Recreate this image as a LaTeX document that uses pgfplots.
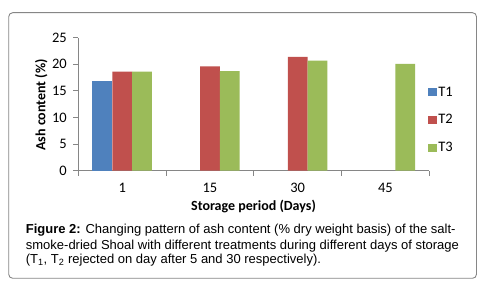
\documentclass[border=0pt]{standalone}
\usepackage{fontspec}
\setmainfont{Carlito}
\newfontfamily\arial{Liberation Sans}
\usepackage{pgfplots}
\pgfplotsset{compat=1.18}
\definecolor{cT1}{HTML}{4F81BD}
\definecolor{cT2}{HTML}{C0504D}
\definecolor{cT3}{HTML}{9BBB59}
\definecolor{axgray}{HTML}{868686}
\begin{document}
\begin{tikzpicture}[x=1pt,y=1pt]
\useasboundingbox (0,0) rectangle (493,289);
\fill[white] (0,0) rectangle (493,289);
\draw[axgray, line width=0.9pt, rounded corners=4pt] (8.7,10.7) rectangle (476.5,276.3);
\begin{axis}[
  at={(78.3pt,118.3pt)}, anchor=south west,
  width=351pt, height=133pt, scale only axis,
  xmin=-0.5, xmax=3.5, ymin=0, ymax=25,
  ybar, bar width=19.8pt,
  axis x line=bottom, axis y line=left,
  axis line style={axgray, line width=0.9pt, -},
  xtick={0,1,2,3}, xticklabels={1,15,30,45},
  minor xtick={-0.5,0.5,1.5,2.5,3.5},
  ytick={0,5,10,15,20,25},
  tick align=outside, major tick length=5pt, minor tick length=5pt,
  tick style={axgray, line width=0.8pt},
  major x tick style={draw=none},
  tick label style={font=\fontsize{14.5}{16}\selectfont, text=black},
  xticklabel style={yshift=-4pt},
  yticklabel style={xshift=-3pt},
  /pgf/number format/assume math mode=true,
  legend style={at={(axis description cs:0.996,0.381)}, anchor=west,
    draw=none, fill=none, font=\fontsize{14.5}{16}\selectfont,
    row sep=15pt, inner sep=0pt,
    nodes={inner sep=1pt, font=\fontsize{14.5}{16}\selectfont}},
  legend cell align=left,
  legend image code/.code={\path[#1, draw=none] (0pt,-4.2pt) rectangle (9.3pt,4.2pt);},
]
\addplot[fill=cT1, draw=none, bar shift=-19.8pt] coordinates {(0,16.9)};
\addplot[fill=cT2, draw=none, bar shift=0pt] coordinates {(0,18.6) (1,19.6) (2,21.4)};
\addplot[fill=cT3, draw=none, bar shift=19.8pt] coordinates {(0,18.6) (1,18.7) (2,20.7) (3,20.1)};
\legend{T1,T2,T3}
\end{axis}
\node[rotate=90, anchor=base, font=\bfseries\fontsize{14}{16}\selectfont] at (45.5,184) {Ash content (\%)};
\node[anchor=base, font=\bfseries\fontsize{14}{16}\selectfont] at (253.5,78.3) {Storage period (Days)};
\begin{scope}[every node/.style={anchor=base west, inner sep=0pt, font=\arial\fontsize{13}{15}\selectfont}]
\node at (25.7,55) {\textbf{Figure 2:} Changing pattern of ash content (\% dry weight basis) of the salt-};
\node at (25.7,39.5) {smoke-dried Shoal with different treatments during different days of storage};
\node at (25.7,25.5) {(T\textsubscript{1}, T\textsubscript{2} rejected on day after 5 and 30 respectively).};
\end{scope}
\end{tikzpicture}
\end{document}
